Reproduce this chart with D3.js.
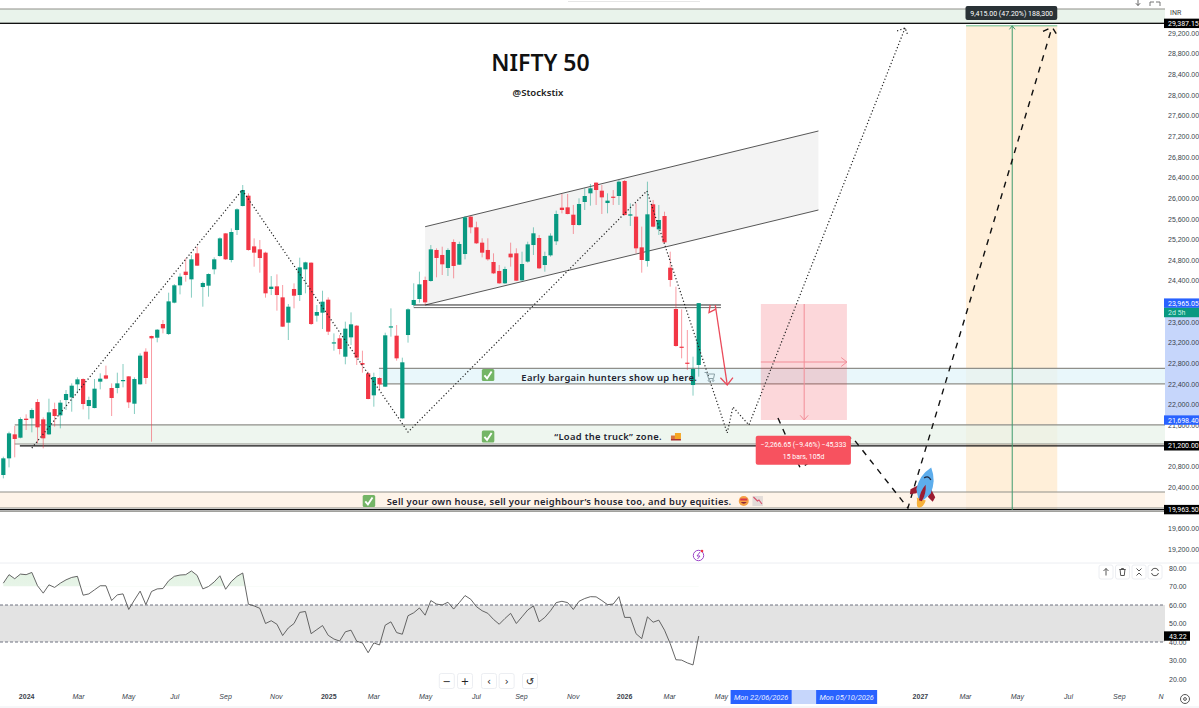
<!DOCTYPE html>
<html>
<head>
<meta charset="utf-8">
<title>NIFTY 50</title>
<script src="https://cdn.jsdelivr.net/npm/d3@7"></script>
<style>
  html, body { margin: 0; padding: 0; background: #fff; overflow: hidden; }
  svg { display: block; font-family: Roboto, "Liberation Sans", sans-serif; }
  .note { font-family: "Noto Sans", sans-serif; font-weight: 600; fill: #1f2430; }
  .axis text { fill: #3a3f4c; font-size: 7px; }
  .axis path, .axis line { display: none; }
</style>
</head>
<body>
<div id="chart"></div>
<script>
// weekly candles
const opens = [20634,20957,21422,21357,21726,21732,22049,21713,21422,21913,21790,22087,22139,22391,22494,21971,21932,22443,22565,22320,22320,22462,22546,22016,22391,23024,23328,23295,23560,23366,23974,24310,24575,24426,24930,24277,24303,24620,24878,25317,24801,25382,25847,26047,25065,25007,24943,24239,24290,24077,23586,24239,24122,24620,24749,23722,23780,24032,23192,23283,22927,23302,23528,22804,22604,22178,22514,22346,23502,23334,21732,23347,23929,24045,24413,24394,24995,24898,24646,25150,24710,24917,25641,25434,25137,24995,24762,24588,24349,24924,24930,24407,24769,25091,25227,24704,24891,25163,25815,25821,25679,25479,25925,26093,26300,26144,25905,26028,26041,26332,25660,25641,25046,24781,25880,25395,25653,24652,23851,23121,22811,22378,22766];
const highs = [20989,21474,21584,21751,21810,21926,22107,21751,22113,22036,22087,22281,22410,22527,22507,22152,22494,22604,22753,22410,22617,22785,22552,22527,22992,23089,23334,23463,23638,24167,24335,24542,24833,24897,25059,24381,24542,24852,25240,25320,25414,25802,26254,26093,25220,25188,24962,24490,24523,24316,23948,24348,24846,24768,24755,23928,24206,24077,23379,23347,23606,23786,23541,23043,22636,22617,22527,23392,23864,23541,22908,23864,24349,24575,24478,25091,25027,25059,25027,25201,25156,25654,25654,25544,25221,25221,24930,24704,24672,25137,25027,24962,25156,25434,25285,24962,25318,25757,26080,26080,25867,25996,26190,26274,26306,26254,26093,26157,26351,26351,25899,25899,25447,26319,25964,25867,25737,24962,24284,23845,23444,22927,23965];
const lows = [20569,20782,20976,21345,21506,21461,21248,21151,21409,21571,21538,21894,21861,22217,21906,21713,21926,22294,22488,21777,22217,22333,21932,21816,22385,22397,21280,23205,23379,23347,23961,24135,24381,24071,24684,23896,24090,24523,24865,24801,24755,25285,25840,24981,24671,24555,24071,24122,23819,23502,23250,23864,24006,24155,23541,23606,23463,23347,23043,22972,22779,23153,22766,22617,22100,21958,22281,22339,23315,22850,21725,23199,23896,23974,23929,24381,24465,24510,24491,24445,24704,24814,25318,25111,24852,24788,24529,24336,24336,24672,24394,24400,24749,24898,24626,24575,24865,25091,25705,25686,25305,25466,25770,25854,25867,25692,25705,25867,25867,25660,25460,24930,24555,24672,25434,25285,25124,24284,23121,22895,22669,22172,22540];
const closes = [20957,21441,21332,21719,21700,21894,21558,21345,21848,21777,22036,22204,22365,22488,22010,22087,22307,22501,22501,22126,22410,22475,22042,22494,22947,22514,23283,23450,23476,23999,24310,24478,24510,24814,24691,24355,24529,24814,25220,24814,25343,25783,26157,24994,24943,24839,24155,24284,24122,23509,23896,24109,24658,24755,23560,23793,23993,23412,23205,23076,23470,23554,22908,22772,22107,22533,22391,23341,23515,22895,22818,23845,24026,24329,23980,25007,24840,24717,24995,24685,25111,25628,25434,25124,24943,24814,24542,24349,24626,24852,24400,24723,25104,25318,24639,24878,25272,25692,25770,25692,25479,25886,26041,26190,26157,26015,25951,26015,26319,25673,25686,25027,24801,25686,25447,25576,25143,24413,23134,23108,22798,22688,23965];

// RSI, one value per candle
const rsiValues = [71.8,76.4,74.2,76.7,76.4,77.6,70.4,66.4,70.9,69.5,71.8,73.6,74.9,75.5,65.3,66,68.2,70.4,70.4,62.4,65.5,66,57.6,62.7,67.5,60.2,67.3,68.7,68.9,73.1,75.5,76.2,76.4,78.4,76,68.7,70,72.5,75.8,68.5,72.7,75.5,77.3,60.4,59.5,58.2,50,51.5,49.6,43.5,47.6,50,56,56.5,44.5,46.7,48.9,43.6,41.6,40.5,45.5,46.4,40.4,39.5,34.2,39.5,38.4,49.1,50.9,45.1,44.2,54.2,55.8,58.4,54.5,62.4,60.5,60,61.5,57.8,61.3,65.1,63.1,59.1,56.9,55.5,52.2,49.6,52.7,55.5,50,53.6,57.3,59.5,50.9,53.3,56.9,61.3,62,61.3,57.6,62,63.5,64.5,64.4,62.4,60.2,60.5,64.5,53.3,53.3,44.5,41.8,53.6,50.7,51.8,46.4,39.1,30.4,30.2,28.7,27.6,43.22];

const priceTicks = d3.range(19200, 29600, 400);
const rsiTicks = [20, 30, 40, 50, 60, 70, 80];
const timeBars = [4,13.1,21.9,30,38.9,47.8,57,64.9,74,82.9,90.8,99.9,108.9,116.8,125.9,160.8,168.7,177.8,186.8,195.7,203];
const timeNames = ['2024','Mar','May','Jul','Sep','Nov','2025','Mar','May','Jul','Sep','Nov','2026','Mar','May','2027','Mar','May','Jul','Sep','N'];

// drawings, as [bar, price]
const dottedPath = [[5,21157],[41.9,26157],[71,21467],[112.9,26138],[127,21448],[128,21952],[130.8,21603],[158.2,29297]];
const dashedPath = [[135.9,21739],[139.8,20770],[148.9,21370],[158.7,19995],[184,29316]];
const channelTop = [[74,25446],[143,27301]];
const channelBottom = [[74,23929],[143,25770]];
const redArrow = [[124.9,23929],[127,22380]];
const redArrowHead = [[125.8,22520],[127,22380],[128,22520]];
const redSmall = [[124,23929],[123.8,23780],[125,23850]];

// zones: name, top price, bottom price, first bar, fill
const zoneNames = ['top', 'blue', 'green', 'orange'];
const zoneTops = [29665, 22700, 21605, 20305];
const zoneBottoms = [29387.15, 22400, 21235, 19995];
const zoneStarts = [-2, 65.9, 2, -2];
const zoneFills = ['#e9f3eb', '#e0f4f9', '#e8f2e9', '#fef0e0'];
const blackLines = [29387.15, 21200, 19963.5];
const blackStarts = [-2, 2.9, -2];

const noteTexts = ['Early bargain hunters show up here.', '“Load the truck” zone.', 'Sell your own house, sell your neighbour’s house too, and buy equities.'];
const noteBars = [106.3, 106.1, 97.5];
const notePrices = [22456, 21312, 20053];
const checkBars = [85, 85, 64.1];
const checkPrices = [22572, 21380, 20130];

const tagValues = [29387.15, 23965.05, 21698.4, 21200, 19963.5];
const tagFills = ['#000', '#2962ff', '#2962ff', '#000', '#000'];

const width = 1199, height = 708, plotRight = 1165;
const green = '#089981', red = '#f23645';

const x = d3.scaleLinear().domain([0, 122]).range([3.33, 698.73]);
const y = d3.scaleLinear().domain([19200, 29200]).range([549, 33]);
const rsiY = d3.scaleLinear().domain([20, 80]).range([679, 568]);
const fmt = d3.format(',.2f');

const svg = d3.select('#chart').append('svg').attr('width', width).attr('height', height);
const defs = svg.append('defs');
defs.append('clipPath').attr('id', 'plot').append('rect').attr('width', plotRight).attr('height', height);
defs.append('clipPath').attr('id', 'over').append('rect').attr('width', plotRight).attr('y', 0).attr('height', rsiY(70));
const grad = defs.append('linearGradient').attr('id', 'overFill').attr('x1', 0).attr('x2', 0).attr('y1', 0).attr('y2', 1);
grad.append('stop').attr('offset', 0).attr('stop-color', '#4caf50').attr('stop-opacity', 0.16);
grad.append('stop').attr('offset', 1).attr('stop-color', '#4caf50').attr('stop-opacity', 0);

const g = svg.append('g').attr('clip-path', 'url(#plot)');
const line = d3.line().x(d => x(d[0])).y(d => y(d[1]));

// orange measure box goes under the zones
g.append('rect').attr('x', x(168.9)).attr('width', x(184.9) - x(168.9))
  .attr('y', y(29339)).attr('height', y(19957) - y(29339)).attr('fill', '#ffefd9');

// zones
zoneNames.forEach((name, i) => {
  g.append('rect').attr('class', 'zone-' + name)
    .attr('x', x(zoneStarts[i])).attr('width', plotRight - x(zoneStarts[i]))
    .attr('y', y(zoneTops[i])).attr('height', y(zoneBottoms[i]) - y(zoneTops[i]))
    .attr('fill', zoneFills[i]).attr('fill-opacity', name === 'top' ? 1 : 0.72)
    .attr('stroke', 'none');
  [zoneTops[i], zoneBottoms[i]].forEach(p => {
    g.append('line').attr('x1', x(zoneStarts[i])).attr('x2', plotRight)
      .attr('y1', y(p)).attr('y2', y(p)).attr('stroke', '#8f8f8a').attr('stroke-width', 1.2);
  });
});
g.append('line').attr('x1', x(-2)).attr('x2', plotRight).attr('y1', y(19930)).attr('y2', y(19930))
  .attr('stroke', '#8f8f8a').attr('stroke-width', 1);
blackLines.forEach((p, i) => {
  g.append('line').attr('x1', x(blackStarts[i])).attr('x2', plotRight)
    .attr('y1', y(p)).attr('y2', y(p)).attr('stroke', '#111').attr('stroke-width', 1.3);
});

// channel
g.append('path').attr('d', line(channelTop.concat(channelBottom.slice().reverse())) + 'Z').attr('fill', '#f3f3f3');
[channelTop, channelBottom].forEach(c => {
  g.append('path').attr('d', line(c)).attr('fill', 'none').attr('stroke', '#444').attr('stroke-width', 0.9);
});

// pink measure box
g.append('rect').attr('x', x(132.9)).attr('width', x(148) - x(132.9))
  .attr('y', y(23948)).attr('height', y(21700) - y(23948)).attr('fill', '#f23645').attr('fill-opacity', 0.2);
g.append('path').attr('d', line([[140.5, 23948], [140.5, 21700]]) + line([[139.8, 21790], [140.5, 21700], [141.2, 21790]]))
  .attr('fill', 'none').attr('stroke', '#f28d97').attr('stroke-width', 1);
g.append('path').attr('d', line([[132.9, 22824], [148, 22824]]) + line([[147, 22910], [148, 22824], [147, 22738]]))
  .attr('fill', 'none').attr('stroke', '#f28d97').attr('stroke-width', 1);

// neckline under the candles
[[23929, '#111'], [23878, '#555']].forEach(d => {
  g.append('line').attr('x1', x(72)).attr('x2', x(125.9)).attr('y1', y(d[0])).attr('y2', y(d[0]))
    .attr('stroke', d[1]).attr('stroke-width', 0.9);
});

// candles
const candles = g.append('g').selectAll('g').data(opens.map((o, i) => i)).join('g')
  .attr('fill', i => closes[i] >= opens[i] ? green : red)
  .attr('stroke', i => closes[i] >= opens[i] ? green : red);
candles.append('line').attr('x1', i => x(i)).attr('x2', i => x(i))
  .attr('y1', i => y(highs[i])).attr('y2', i => y(lows[i]))
  .attr('stroke-width', 0.9).attr('stroke-opacity', 0.55);
candles.append('rect').attr('x', i => x(i) - 2.1).attr('width', 4.2)
  .attr('y', i => y(Math.max(opens[i], closes[i])))
  .attr('height', i => Math.max(1.2, Math.abs(y(opens[i]) - y(closes[i]))))
  .attr('stroke', 'none');

// center lines of orange box, green on top
g.append('line').attr('x1', x(177)).attr('x2', x(177)).attr('y1', y(29339)).attr('y2', y(19957))
  .attr('stroke', '#3f9a6e').attr('stroke-width', 1);
g.append('line').attr('x1', x(168.9)).attr('x2', x(184.9)).attr('y1', y(29339)).attr('y2', y(29339))
  .attr('stroke', '#66bb8a').attr('stroke-width', 1);
g.append('path').attr('d', line([[176.5, 29270], [177, 29339], [177.5, 29270]]))
  .attr('fill', 'none').attr('stroke', '#3f9a6e');

// scenario lines
g.append('path').attr('d', line(dottedPath) + line([[156.8, 29240], [158.2, 29297], [158.6, 29180]]))
  .attr('fill', 'none').attr('stroke', '#222').attr('stroke-width', 1.2).attr('stroke-dasharray', '1.2 2.2');
g.append('path').attr('d', line(dashedPath) + line([[182.4, 29230], [184, 29316], [184.8, 29170]]))
  .attr('fill', 'none').attr('stroke', '#111').attr('stroke-width', 1.4).attr('stroke-dasharray', '6 6');

// red arrow
[redArrow, redArrowHead, redSmall].forEach(d => {
  g.append('path').attr('d', line(d)).attr('fill', 'none').attr('stroke', '#ea4a5a').attr('stroke-width', 1.3);
});

// notes on the zones
const checks = g.append('g').selectAll('g').data(checkBars.map((b, i) => i)).join('g')
  .attr('transform', i => `translate(${x(checkBars[i])},${y(checkPrices[i])})`);
checks.append('rect').attr('x', -6).attr('y', -6).attr('width', 12.5).attr('height', 12).attr('rx', 1.5).attr('fill', '#74b566');
checks.append('path').attr('d', 'M-3.4,0.4L-0.8,3.4L3.8,-3.6').attr('fill', 'none').attr('stroke', '#fff').attr('stroke-width', 1.9);

g.append('g').selectAll('text').data(noteTexts).join('text').attr('class', 'note')
  .attr('x', (d, i) => x(noteBars[i])).attr('y', (d, i) => y(notePrices[i]))
  .attr('text-anchor', 'middle').attr('font-size', 9.4).attr('letter-spacing', 0.3)
  .text(d => d);

// small pictures after the notes
const cart = g.append('g').attr('transform', `translate(${x(123.9)},${y(22543)})`)
  .attr('fill', 'none').attr('stroke', '#8aa0a6').attr('stroke-width', 1);
cart.append('path').attr('d', 'M-5,-4H-3L-1,2H4L5,-2.5H-2.4');
cart.append('circle').attr('cx', -0.5).attr('cy', 4).attr('r', 0.9);
cart.append('circle').attr('cx', 3.5).attr('cy', 4).attr('r', 0.9);
const truck = g.append('g').attr('transform', `translate(${x(118)},${y(21380)})`);
truck.append('rect').attr('x', -1).attr('y', -3.5).attr('width', 6).attr('height', 6).attr('fill', '#f5a623');
truck.append('rect').attr('x', -5).attr('y', -1).attr('width', 4).attr('height', 3.5).attr('fill', '#d9703c');
truck.append('rect').attr('x', -5).attr('y', 2.5).attr('width', 10).attr('height', 1.5).attr('fill', '#a33');
const face = g.append('g').attr('transform', `translate(${x(129.9)},${y(20130)})`);
face.append('circle').attr('r', 5).attr('fill', '#f5a045');
face.append('rect').attr('x', -3.5).attr('y', -2.5).attr('width', 7).attr('height', 2).attr('fill', '#d8344a');
face.append('path').attr('d', 'M-3,1Q0,4.5,3,1Z').attr('fill', '#8a2a3a');
const chartIcon = g.append('g').attr('transform', `translate(${x(132.3)},${y(20130)})`);
chartIcon.append('rect').attr('x', -5).attr('y', -5).attr('width', 10.5).attr('height', 10).attr('fill', '#e3dcd8');
chartIcon.append('path').attr('d', 'M-4,-4L0,0L1.5,-1L4.5,3').attr('fill', 'none').attr('stroke', '#d8506a').attr('stroke-width', 1.1);

// rocket
const rocket = g.append('g').attr('transform', `translate(${x(161.7)},${y(20410)}) rotate(18)`);
rocket.append('path').attr('d', 'M-3.5,15Q-2,23,1,22Q5,20,5,13H-4.5Z').attr('fill', '#f7b23b');
rocket.append('path').attr('d', 'M-6,0L-13,7L-12,12L-6,9Z').attr('fill', '#9b1c31');
rocket.append('path').attr('d', 'M6,0L13,7L12,12L6,9Z').attr('fill', '#9b1c31');
rocket.append('path').attr('d', 'M0,-20Q9,-9,7.5,5L3,13H-3L-7.5,5Q-9,-9,0,-20Z').attr('fill', '#5dadec');
rocket.append('path').attr('d', 'M0,-2Q3.5,6,1.5,15H-1.5Q-3.5,6,0,-2Z').attr('fill', '#9b1c31');
rocket.append('path').attr('d', 'M-3.5,-8Q0,-12,3.5,-8').attr('fill', 'none').attr('stroke', '#1f2a44').attr('stroke-width', 1.4);

// measure labels
g.append('rect').attr('x', x(132)).attr('width', x(148.7) - x(132)).attr('y', y(21395)).attr('height', 29).attr('rx', 2).attr('fill', '#f7525f');
g.append('text').attr('x', x(140.4)).attr('y', y(21395) + 11.5).attr('text-anchor', 'middle').attr('fill', '#fff').attr('font-size', 6.9).text('−2,266.65 (−9.46%) −45,333');
g.append('text').attr('x', x(140.4)).attr('y', y(21395) + 23).attr('text-anchor', 'middle').attr('fill', '#fff').attr('font-size', 6.9).text('15 bars, 105d');
g.append('rect').attr('x', x(168.8)).attr('width', x(184.9) - x(168.8)).attr('y', 6).attr('height', 14).attr('rx', 2).attr('fill', '#2a3236');
g.append('text').attr('x', x(176.9)).attr('y', 15.6).attr('text-anchor', 'middle').attr('fill', '#fff').attr('font-size', 7).text('9,415.00 (47.20%) 188,300');

// title
svg.append('text').attr('x', 540.5).attr('y', 71).attr('text-anchor', 'middle')
  .attr('font-family', '"Noto Sans", sans-serif').attr('font-weight', 600).attr('font-size', 23).attr('fill', '#111').text('NIFTY 50');
svg.append('text').attr('x', 538).attr('y', 96).attr('text-anchor', 'middle')
  .attr('font-family', '"Noto Sans", sans-serif').attr('font-weight', 600).attr('font-size', 9.6).attr('fill', '#222').text('@Stockstix');

// rsi pane
svg.append('line').attr('x1', 0).attr('x2', width).attr('y1', 563).attr('y2', 563).attr('stroke', '#eceef2');
const rp = svg.append('g').attr('clip-path', 'url(#plot)');
rp.append('rect').attr('x', 0).attr('width', plotRight).attr('y', rsiY(60)).attr('height', rsiY(40) - rsiY(60)).attr('fill', '#e3e3e3');
[60, 40].forEach(v => {
  rp.append('line').attr('x1', 0).attr('x2', plotRight).attr('y1', rsiY(v)).attr('y2', rsiY(v))
    .attr('stroke', '#6f7280').attr('stroke-dasharray', '3 2').attr('stroke-width', 1);
});
rp.append('path').datum(rsiValues).attr('clip-path', 'url(#over)')
  .attr('d', d3.area().x((d, i) => x(i)).y0(rsiY(70)).y1(d => rsiY(d)))
  .attr('fill', 'url(#overFill)');
rp.append('path').datum(rsiValues)
  .attr('d', d3.line().x((d, i) => x(i)).y(d => rsiY(d)))
  .attr('fill', 'none').attr('stroke', '#555').attr('stroke-width', 0.9);

// price axis, with the highlighted range behind it
svg.append('rect').attr('x', plotRight).attr('width', width - plotRight).attr('y', y(23965)).attr('height', y(21698) - y(23965)).attr('fill', '#c6d6fb');
svg.append('g').attr('class', 'axis').attr('transform', `translate(${plotRight},0)`)
  .call(d3.axisRight(y).tickValues(priceTicks).tickSize(0).tickPadding(3).tickFormat(fmt));
svg.append('g').attr('class', 'axis').attr('transform', `translate(${plotRight},0)`)
  .call(d3.axisRight(rsiY).tickValues(rsiTicks).tickSize(0).tickPadding(4).tickFormat(d3.format('.2f')));

const tags = svg.append('g').selectAll('g').data(tagValues).join('g').attr('transform', d => `translate(${plotRight - 1},${y(d)})`);
tags.append('rect').attr('y', -4.7).attr('width', 36).attr('height', 9.4).attr('fill', (d, i) => tagFills[i]);
tags.append('text').attr('x', 4).attr('y', 2.5).attr('fill', '#fff').attr('font-size', 7).text(d => fmt(d));
svg.append('rect').attr('x', plotRight - 1).attr('y', y(23965) + 4.7).attr('width', 36).attr('height', 9.4).attr('fill', green);
svg.append('text').attr('x', plotRight + 3).attr('y', y(23965) + 12).attr('fill', '#c9f2e6').attr('font-size', 7).text('2d 5h');
const rsiTag = svg.append('g').attr('transform', `translate(${plotRight - 1},${rsiY(43.22)})`);
rsiTag.append('rect').attr('y', -4.7).attr('width', 26).attr('height', 9.4).attr('fill', '#000');
rsiTag.append('text').attr('x', 5).attr('y', 2.5).attr('fill', '#fff').attr('font-size', 7).text('43.22');

// time axis
const timeAxis = svg.append('g').attr('class', 'axis').attr('transform', 'translate(0,694)')
  .call(d3.axisBottom(x).tickValues(timeBars).tickSize(0).tickPadding(0).tickFormat((d, i) => timeNames[i]));
timeAxis.selectAll('text')
  .attr('font-weight', (d, i) => /^\d/.test(timeNames[i]) ? 600 : 400)
  .attr('font-style', (d, i) => /^\d/.test(timeNames[i]) ? 'normal' : 'italic');
svg.append('rect').attr('x', x(127.6)).attr('width', x(153) - x(127.6)).attr('y', 690).attr('height', 14).attr('fill', '#c6d6fb');
[['Mon 22/06/2026', 127.6], ['Mon 05/10/2026', 142.6]].forEach(d => {
  svg.append('rect').attr('x', x(d[1])).attr('width', x(d[1] + 10.7) - x(d[1])).attr('y', 690).attr('height', 14).attr('fill', '#2962ff');
  svg.append('text').attr('x', x(d[1] + 5.35)).attr('y', 700).attr('text-anchor', 'middle').attr('fill', '#e8eeff')
    .attr('font-size', 7.4).attr('font-style', 'italic').text(d[0]);
});

// chart buttons
const btnLabels = ['−', '+', '‹', '›', '↺'];
const btnBars = [77.8, 81, 85.2, 88.3, 92.4];
const buttons = svg.append('g').selectAll('g').data(btnLabels).join('g').attr('transform', (d, i) => `translate(${x(btnBars[i])},681)`);
buttons.append('rect').attr('x', -7.5).attr('y', -7.5).attr('width', 15).attr('height', 15).attr('rx', 2).attr('fill', '#fff').attr('stroke', '#eceef2');
buttons.append('text').attr('y', 3.5).attr('text-anchor', 'middle').attr('font-size', 10).attr('fill', '#222').attr('font-family', '"DejaVu Sans"').text(d => d);

const paneX = [1106, 1122.5, 1139, 1155];
const paneBtns = svg.append('g').selectAll('g').data(paneX).join('g').attr('transform', d => `translate(${d},572)`);
paneBtns.append('rect').attr('x', -7).attr('y', -7).attr('width', 14).attr('height', 14).attr('rx', 2).attr('fill', '#fff').attr('stroke', '#eceef2');
paneBtns.append('path').attr('fill', 'none').attr('stroke', '#444').attr('stroke-width', 0.9)
  .attr('d', (d, i) => [
    'M0,3.5V-3.5M-2.5,-1L0,-3.5L2.5,-1',
    'M-3.2,-2.5H3.2M-2.4,-2.5L-1.8,3.5H1.8L2.4,-2.5M-1,-2.5V-3.5H1V-2.5',
    'M-2.5,-3.5L0,-1L2.5,-3.5M-2.5,3.5L0,1L2.5,3.5',
    'M-3.5,-1A3.6,3.6,0,0,1,3.5,-1M3.5,1A3.6,3.6,0,0,1,-3.5,1'
  ][i]);

// top right corner
svg.append('line').attr('x1', 568).attr('x2', 700).attr('y1', 1.5).attr('y2', 1.5).attr('stroke', '#e6e6e6');
svg.append('path').attr('d', 'M1138,0V5.5M1135.8,3.2L1138,5.5L1140.2,3.2').attr('fill', 'none').attr('stroke', '#555').attr('stroke-width', 0.9);
svg.append('path').attr('d', 'M1150,6V2H1154M1156,2H1160V6').attr('fill', 'none').attr('stroke', '#666').attr('stroke-width', 0.9);
svg.append('rect').attr('x', plotRight).attr('y', 0).attr('width', 34).attr('height', 17).attr('fill', '#fff');
svg.append('text').attr('x', 1170).attr('y', 15).attr('font-size', 7).attr('fill', '#444').text('INR');

// settings and the purple badge
svg.append('circle').attr('cx', 1185).attr('cy', 699).attr('r', 4.5).attr('fill', 'none').attr('stroke', '#555');
svg.append('circle').attr('cx', 1185).attr('cy', 699).attr('r', 1.4).attr('fill', 'none').attr('stroke', '#555');
svg.append('circle').attr('cx', 698.5).attr('cy', 555.5).attr('r', 5.2).attr('fill', 'none').attr('stroke', '#9c46c8').attr('stroke-width', 1);
svg.append('path').attr('d', 'M700,552L697,556H700L697.5,559').attr('fill', 'none').attr('stroke', '#9c46c8');
svg.append('circle').attr('cx', 702).attr('cy', 551).attr('r', 1.3).attr('fill', '#f23645');
svg.append('line').attr('x1', 0).attr('x2', width).attr('y1', 707).attr('y2', 707).attr('stroke', '#eceef2');
</script>
</body>
</html>
